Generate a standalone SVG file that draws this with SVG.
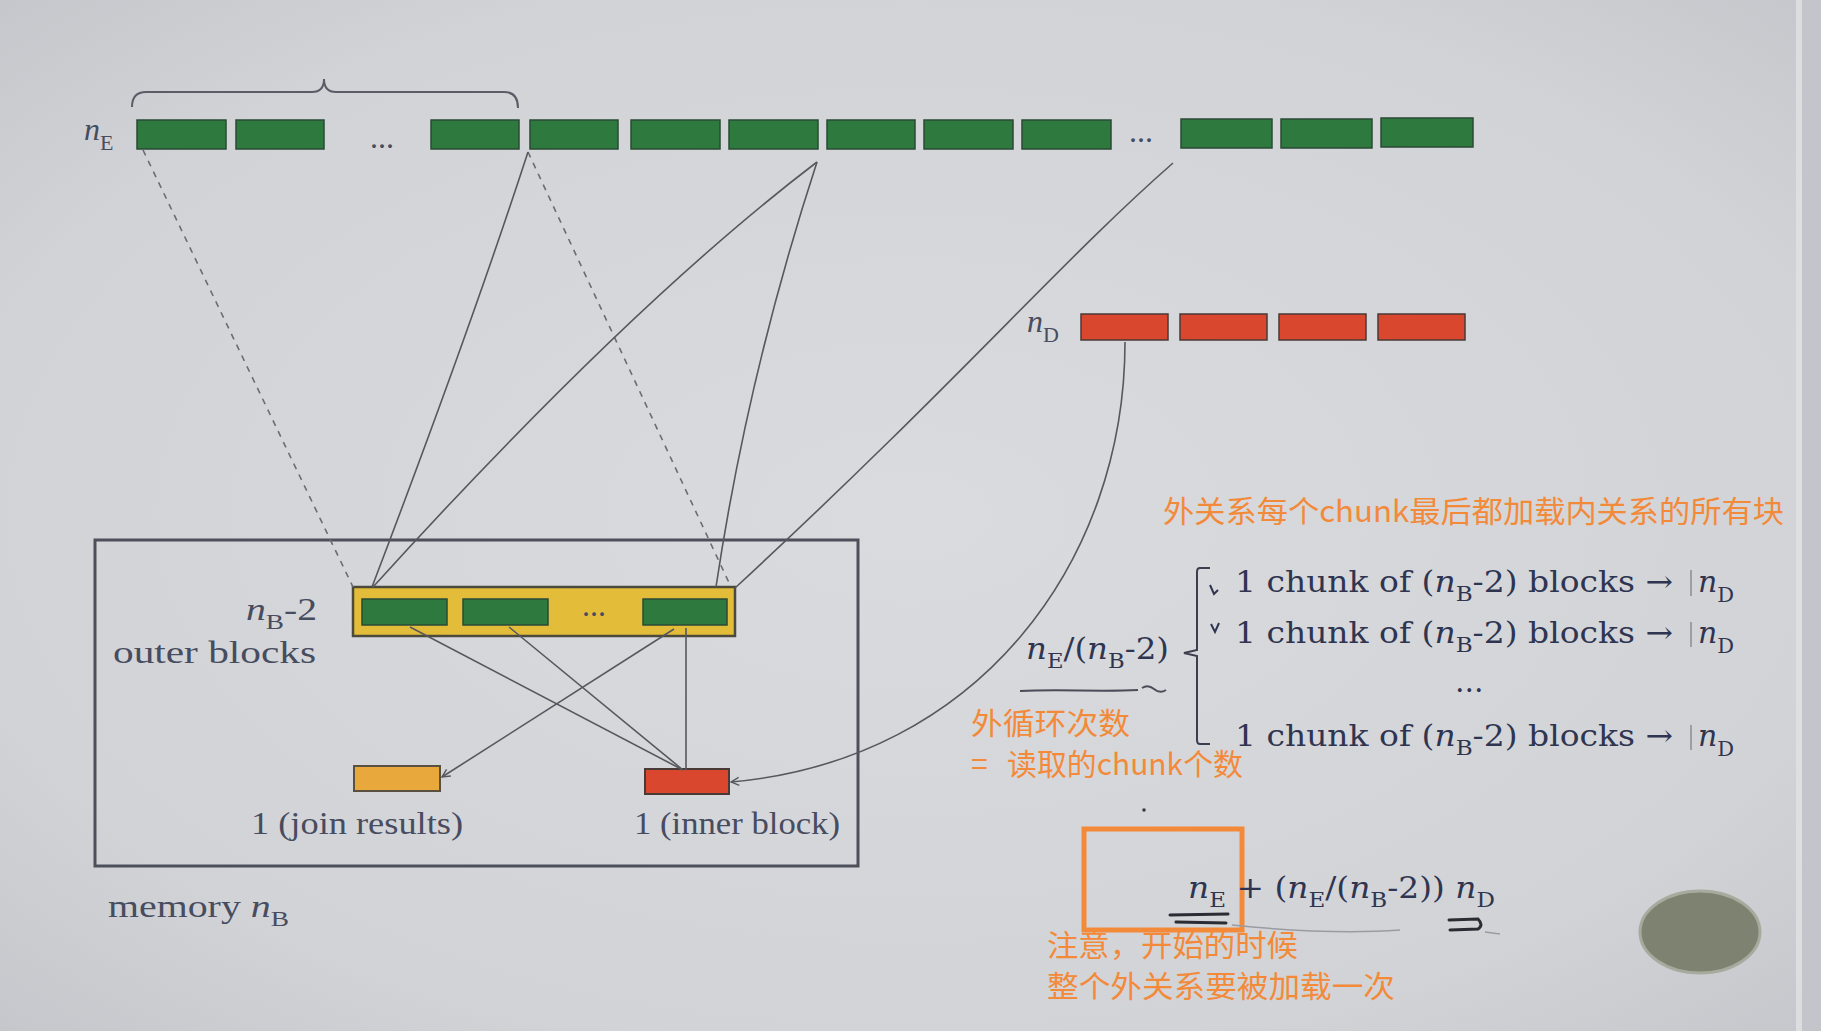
<svg xmlns="http://www.w3.org/2000/svg" width="1821" height="1031" viewBox="0 0 1821 1031">
<defs>
<radialGradient id="bg" cx="0.5" cy="0.5" r="0.75">
<stop offset="0" stop-color="#dadbde"/>
<stop offset="0.7" stop-color="#d2d3d7"/>
<stop offset="1" stop-color="#c3c4c9"/>
</radialGradient>
<marker id="arr" viewBox="0 0 10 10" refX="9" refY="5" markerWidth="10" markerHeight="10" markerUnits="userSpaceOnUse" orient="auto">
<path d="M1,1 L9,5 L1,9" fill="none" stroke="#55585f" stroke-width="1.4"/>
</marker>
<style>
.g{fill:#2e7a3e;stroke:#2a4a36;stroke-width:1.5}
.r{fill:#d8472e;stroke:#4a3a36;stroke-width:1.5}
.lbl{font-family:"Liberation Serif","DejaVu Serif",serif;fill:#474c5f;font-size:32px}
.m{font-family:"DejaVu Serif","Liberation Serif",serif;fill:#2f3550;font-size:30px}
.it{font-style:italic}
.cn{font-family:"Noto Sans CJK SC","Noto Sans",sans-serif;fill:#f28a3a;font-size:30px}
.ln{fill:none;stroke:#55585f;stroke-width:1.6}
.ds{fill:none;stroke:#6a6d76;stroke-width:1.6;stroke-dasharray:6 6}
.hand{fill:none;stroke:#2a2c33;stroke-width:3;stroke-linecap:round}
</style>
</defs>
<rect x="0" y="0" width="1821" height="1031" fill="url(#bg)"/>
<rect x="1796" y="0" width="6" height="1031" fill="#e1e2e4" opacity="0.8"/>
<rect x="1802" y="0" width="19" height="1031" fill="#c4c5ca"/>

<g id="outer-relation">
<path d="M132,107 Q132,92 146,92 L312,92 Q324,92 324,79 Q324,92 336,92 L504,92 Q518,92 518,108" fill="none" stroke="#5a5d68" stroke-width="2"/>
<text class="lbl" x="84" y="140"><tspan class="it">n</tspan><tspan font-size="22" dy="10">E</tspan></text>
<rect class="g" x="137" y="120" width="89" height="29"/>
<rect class="g" x="236" y="120" width="88" height="29"/>
<text class="lbl" x="370" y="148" font-size="28">...</text>
<rect class="g" x="431" y="120" width="88" height="29"/>
<rect class="g" x="530" y="120" width="88" height="29"/>
<rect class="g" x="631" y="120" width="89" height="29"/>
<rect class="g" x="729" y="120" width="89" height="29"/>
<rect class="g" x="827" y="120" width="88" height="29"/>
<rect class="g" x="924" y="120" width="89" height="29"/>
<rect class="g" x="1022" y="120" width="89" height="29"/>
<text class="lbl" x="1129" y="142" font-size="28">...</text>
<rect class="g" x="1181" y="119" width="91" height="29"/>
<rect class="g" x="1281" y="119" width="91" height="29"/>
<rect class="g" x="1381" y="118" width="92" height="29"/>
</g>

<g id="inner-relation">
<text class="lbl" x="1027" y="332"><tspan class="it">n</tspan><tspan font-size="22" dy="10">D</tspan></text>
<rect class="r" x="1081" y="314" width="87" height="26"/>
<rect class="r" x="1180" y="314" width="87" height="26"/>
<rect class="r" x="1279" y="314" width="87" height="26"/>
<rect class="r" x="1378" y="314" width="87" height="26"/>
</g>

<g id="memory">
<rect x="95" y="540" width="763" height="326" fill="none" stroke="#4d505a" stroke-width="3"/>
<text class="lbl" x="108" y="917" textLength="181" lengthAdjust="spacingAndGlyphs">memory <tspan class="it">n</tspan><tspan font-size="22" dy="9">B</tspan></text>
</g>

<g id="outer-blocks">
<rect x="353" y="587" width="382" height="49" fill="#e3bd3a" stroke="#4b4a3c" stroke-width="2.5"/>
<rect class="g" x="362" y="599" width="85" height="26"/>
<rect class="g" x="463" y="599" width="85" height="26"/>
<text class="lbl" x="582" y="616" font-size="24">...</text>
<rect class="g" x="643" y="599" width="84" height="26"/>
<text class="lbl" x="246" y="620" textLength="71" lengthAdjust="spacingAndGlyphs"><tspan class="it">n</tspan><tspan font-size="22" dy="9">B</tspan><tspan dy="-9">-2</tspan></text>
<text class="lbl" x="113" y="663" textLength="203" lengthAdjust="spacingAndGlyphs">outer blocks</text>
</g>

<g id="join-results">
<rect x="354" y="766" width="86" height="25" fill="#e8a83c" stroke="#5a5040" stroke-width="2"/>
<text class="lbl" x="251" y="834" textLength="212" lengthAdjust="spacingAndGlyphs">1 (join results)</text>
</g>

<g id="inner-block">
<rect x="645" y="769" width="84" height="25" fill="#d8472e" stroke="#4a3a36" stroke-width="2"/>
<text class="lbl" x="634" y="834" textLength="206" lengthAdjust="spacingAndGlyphs">1 (inner block)</text>
</g>

<g id="connectors">
<path class="ds" d="M143,150 L353,587"/>
<path class="ds" d="M528,152 L731,587"/>
<path class="ln" d="M528,152 Q470,330 372,587"/>
<path class="ln" d="M817,162 Q629,305 373,587"/>
<path class="ln" d="M817,162 Q748,373 716,587"/>
<path class="ln" d="M1173,163 C1060,262 960,380 735,588"/>
<path class="ln" d="M1125,342 C1125,560 980,760 731,782" marker-end="url(#arr)"/>
<path class="ln" d="M410,627 L683,770"/>
<path class="ln" d="M509,627 L683,770"/>
<path class="ln" d="M686,628 L686,770"/>
<path class="ln" d="M674,629 L442,777" marker-end="url(#arr)"/>
</g>

<g id="chunks">
<path d="M1210,568 L1200,568 Q1197,568 1197,572 L1197,650 L1184,653 L1197,656 L1197,740 Q1197,744 1200,744 L1210,744" fill="none" stroke="#3a3e4e" stroke-width="2"/>
<path d="M1210,585 L1214,594 L1218,590" fill="none" stroke="#2f3550" stroke-width="2"/>
<path d="M1211,624 L1215,632 L1219,623" fill="none" stroke="#2f3550" stroke-width="2"/>
<text class="m" x="1235" y="592" textLength="438" lengthAdjust="spacingAndGlyphs">1 chunk of (<tspan class="it">n</tspan><tspan font-size="21" dy="9">B</tspan><tspan dy="-9">-2) blocks →</tspan></text>
<line x1="1691" y1="570" x2="1691" y2="596" stroke="#8a8c94" stroke-width="1.5"/>
<text class="m" x="1698" y="592"><tspan class="it">n</tspan><tspan font-size="21" dy="10">D</tspan></text>
<text class="m" x="1235" y="643" textLength="438" lengthAdjust="spacingAndGlyphs">1 chunk of (<tspan class="it">n</tspan><tspan font-size="21" dy="9">B</tspan><tspan dy="-9">-2) blocks →</tspan></text>
<line x1="1691" y1="622" x2="1691" y2="647" stroke="#8a8c94" stroke-width="1.5"/>
<text class="m" x="1698" y="643"><tspan class="it">n</tspan><tspan font-size="21" dy="10">D</tspan></text>
<text class="m" x="1455" y="692" font-size="26">...</text>
<text class="m" x="1235" y="746" textLength="438" lengthAdjust="spacingAndGlyphs">1 chunk of (<tspan class="it">n</tspan><tspan font-size="21" dy="9">B</tspan><tspan dy="-9">-2) blocks →</tspan></text>
<line x1="1691" y1="725" x2="1691" y2="750" stroke="#8a8c94" stroke-width="1.5"/>
<text class="m" x="1698" y="746"><tspan class="it">n</tspan><tspan font-size="21" dy="10">D</tspan></text>
<text class="m" x="1026" y="659" textLength="143" lengthAdjust="spacingAndGlyphs"><tspan class="it">n</tspan><tspan font-size="21" dy="9">E</tspan><tspan dy="-9">/(</tspan><tspan class="it">n</tspan><tspan font-size="21" dy="9">B</tspan><tspan dy="-9">-2)</tspan></text>
<path d="M1020,691 C1060,689 1100,692 1138,690 M1142,688 Q1148,684 1154,689 Q1160,694 1166,690" fill="none" stroke="#4a4d58" stroke-width="2"/>
</g>

<g id="notes">
<text class="cn" x="1163" y="522" textLength="621" lengthAdjust="spacingAndGlyphs">外关系每个chunk最后都加载内关系的所有块</text>
<text class="cn" x="971" y="734" textLength="159" lengthAdjust="spacingAndGlyphs">外循环次数</text>
<text class="cn" x="971" y="775">=</text>
<text class="cn" x="1007" y="775" textLength="236" lengthAdjust="spacingAndGlyphs">读取的chunk个数</text>
<text class="cn" x="1047" y="956" textLength="251" lengthAdjust="spacingAndGlyphs">注意，开始的时候</text>
<text class="cn" x="1047" y="997" textLength="348" lengthAdjust="spacingAndGlyphs">整个外关系要被加载一次</text>
</g>

<g id="formula">
<rect x="1084" y="829" width="158" height="101" fill="none" stroke="#f28a3a" stroke-width="5"/>
<circle cx="1144" cy="810" r="1.8" fill="#3a3c44"/>
<text class="m" x="1188" y="898" textLength="307" lengthAdjust="spacingAndGlyphs"><tspan class="it">n</tspan><tspan font-size="21" dy="9">E</tspan><tspan dy="-9"> + (</tspan><tspan class="it">n</tspan><tspan font-size="21" dy="9">E</tspan><tspan dy="-9">/(</tspan><tspan class="it">n</tspan><tspan font-size="21" dy="9">B</tspan><tspan dy="-9">-2)) </tspan><tspan class="it">n</tspan><tspan font-size="21" dy="9">D</tspan></text>
<path class="hand" d="M1170,915 L1228,914 M1176,922 L1226,923"/>
<path class="hand" d="M1449,920 L1478,919 Q1484,925 1478,929 L1450,930"/>
<path d="M1232,925 Q1330,935 1400,930 M1485,932 L1500,934" fill="none" stroke="#9a9ca3" stroke-width="1.5"/>
</g>

<g id="dot">
<ellipse cx="1700" cy="932" rx="60" ry="41" fill="#7d8370" stroke="#a7ab9e" stroke-width="3"/>
</g>
</svg>
